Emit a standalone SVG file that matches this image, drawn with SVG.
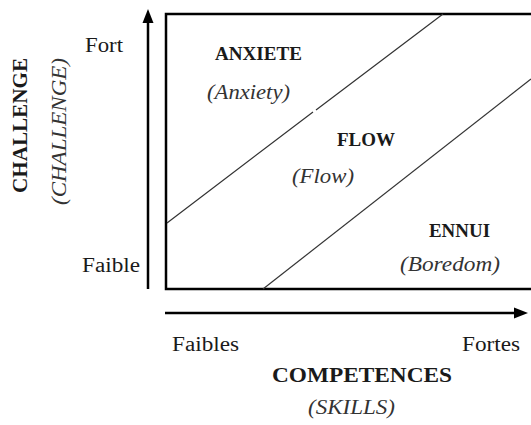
<svg xmlns="http://www.w3.org/2000/svg" width="531" height="425" viewBox="0 0 531 425">
  <defs>
    <style>
      .b { font-weight: bold; }
      .i { font-style: italic; }
      .axis { stroke: #000; stroke-width: 2.5; fill: none; }
      .head { fill: #000; }
      .frame { stroke: #000; stroke-width: 2.5; fill: #fff; }
      .zone { stroke: #333; stroke-width: 1.2; fill: none; }
    </style>
  </defs>
  <rect width="531" height="425" fill="#fff"/>

  <!-- chart frame -->
  <g id="frame">
    <rect class="frame" x="166" y="14" width="380" height="275"/>
  </g>

  <!-- zone boundaries and axes -->
  <g id="connectors">
    <path class="zone" d="M167,223 L313,112 M316,110 L443,14"/>
    <path class="zone" d="M263,289 L531,79"/>
    <line class="axis" x1="148" y1="289" x2="148" y2="20"/>
    <polygon class="head" points="148,9 142.5,23 153.5,23"/>
    <line class="axis" x1="165" y1="313" x2="516" y2="313"/>
    <polygon class="head" points="528,313 514,307.5 514,318.5"/>
  </g>

  <g font-family="Liberation Serif, Times New Roman, Times, serif" fill="#1a1a1a" lengthAdjust="spacingAndGlyphs">
    <g id="anxiete">
      <text class="b" x="215" y="60" font-size="19" textLength="87" lengthAdjust="spacingAndGlyphs">ANXIETE</text>
      <text class="i" x="207" y="99" font-size="20" fill="#333" textLength="83" lengthAdjust="spacingAndGlyphs">(Anxiety)</text>
    </g>
    <g id="flow">
      <text class="b" x="337" y="146" font-size="19" textLength="58" lengthAdjust="spacingAndGlyphs">FLOW</text>
      <text class="i" x="292" y="183" font-size="20" fill="#333" textLength="62" lengthAdjust="spacingAndGlyphs">(Flow)</text>
    </g>
    <g id="ennui">
      <text class="b" x="429" y="237" font-size="19" textLength="61" lengthAdjust="spacingAndGlyphs">ENNUI</text>
      <text class="i" x="400" y="271" font-size="20" fill="#333" textLength="100" lengthAdjust="spacingAndGlyphs">(Boredom)</text>
    </g>

    <g id="y-axis-labels">
      <text x="85" y="52" font-size="20" textLength="38" lengthAdjust="spacingAndGlyphs">Fort</text>
      <text x="82" y="272" font-size="20" textLength="58" lengthAdjust="spacingAndGlyphs">Faible</text>
      <text class="b" transform="translate(27,193) rotate(-90)" font-size="20" textLength="135" lengthAdjust="spacingAndGlyphs">CHALLENGE</text>
      <text class="i" transform="translate(66,205) rotate(-90)" font-size="20" fill="#333" textLength="147" lengthAdjust="spacingAndGlyphs">(CHALLENGE)</text>
    </g>

    <g id="x-axis-labels">
      <text x="172" y="351" font-size="20" textLength="67" lengthAdjust="spacingAndGlyphs">Faibles</text>
      <text x="462" y="351" font-size="20" textLength="58" lengthAdjust="spacingAndGlyphs">Fortes</text>
      <text class="b" x="272" y="382" font-size="20" textLength="180" lengthAdjust="spacingAndGlyphs">COMPETENCES</text>
      <text class="i" x="308" y="414" font-size="20" fill="#333" textLength="87" lengthAdjust="spacingAndGlyphs">(SKILLS)</text>
    </g>
  </g>
</svg>
